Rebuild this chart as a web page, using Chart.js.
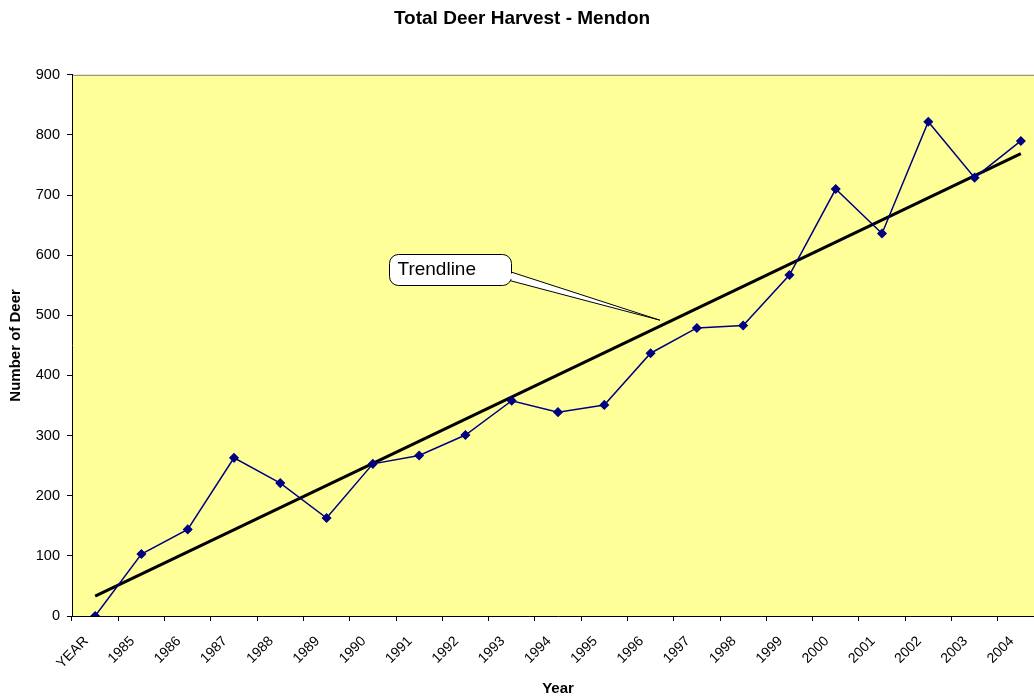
<!DOCTYPE html>
<html>
<head>
<meta charset="utf-8">
<title>Total Deer Harvest - Mendon</title>
<script src="https://cdn.jsdelivr.net/npm/chart.js@4.4.1/dist/chart.umd.min.js"></script>
<style>
  html, body { margin: 0; padding: 0; background: #fff; overflow: hidden; }
  #wrap { width: 1050px; height: 698px; position: relative; }
</style>
</head>
<body>
<div id="wrap"><canvas id="deerChart"></canvas></div>
<script>
// ── Data ──────────────────────────────────────────────────
const years = ['YEAR', '1985', '1986', '1987', '1988', '1989', '1990', '1991', '1992', '1993',
               '1994', '1995', '1996', '1997', '1998', '1999', '2000', '2001', '2002', '2003', '2004'];
const harvest = [0, 103, 144, 263, 221, 163, 253, 267, 301, 358,
                 339, 351, 437, 479, 483, 567, 710, 636, 822, 729, 790];
// trendline end values as drawn in the picture
const trendYears = ['YEAR', '2004'];
const trendValues = [33, 769];
const yTicks = { min: 0, max: 900, step: 100 };

// ── Styles ────────────────────────────────────────────────
const FONT = "'Liberation Sans', Arial, sans-serif";
const PLOT_BG = '#FFFF99';
const NAVY = '#000080';

// callout, anchored on the chart's own scales
const CALLOUT = {
  text: 'Trendline',
  tip: { index: 12.2, value: 492 },
  box: { index: 6.35, value: 602 },
  w: 122, h: 31, r: 9,
};

const plotArea = {
  id: 'plotArea',
  beforeDraw(chart) {
    const { ctx, chartArea: a } = chart;
    ctx.save();
    ctx.fillStyle = PLOT_BG;
    ctx.fillRect(a.left, a.top, a.right - a.left, a.bottom - a.top);
    ctx.strokeStyle = '#808080';
    ctx.lineWidth = 1;
    ctx.beginPath();
    ctx.moveTo(a.left, a.top + 0.5);
    ctx.lineTo(a.right, a.top + 0.5);
    ctx.moveTo(a.right - 0.5, a.top);
    ctx.lineTo(a.right - 0.5, a.bottom);
    ctx.stroke();
    ctx.restore();
  },
};

const callout = {
  id: 'callout',
  afterDatasetsDraw(chart) {
    const { ctx, scales: { x, y } } = chart;
    const tx = x.getPixelForValue(CALLOUT.tip.index);
    const ty = y.getPixelForValue(CALLOUT.tip.value);
    const bx = Math.round(x.getPixelForValue(CALLOUT.box.index)) + 0.5;
    const by = Math.round(y.getPixelForValue(CALLOUT.box.value)) + 0.5;
    const { w, h, r } = CALLOUT;
    ctx.save();
    ctx.lineWidth = 1;
    ctx.strokeStyle = '#000';
    ctx.fillStyle = '#fff';
    // tail
    ctx.beginPath();
    ctx.moveTo(bx + w - 2, by + 17);
    ctx.lineTo(tx, ty);
    ctx.lineTo(bx + w - 2, by + 26);
    ctx.closePath();
    ctx.fill();
    ctx.stroke();
    // box
    ctx.beginPath();
    ctx.roundRect(bx, by, w, h, r);
    ctx.fill();
    ctx.stroke();
    // cover the seam where the tail joins
    ctx.beginPath();
    ctx.moveTo(bx + w - 3, by + 18);
    ctx.lineTo(bx + w + 3, by + 20);
    ctx.lineTo(bx + w + 3, by + 24);
    ctx.lineTo(bx + w - 3, by + 25);
    ctx.closePath();
    ctx.fill();
    ctx.fillStyle = '#000';
    ctx.font = '19px ' + FONT;
    ctx.textBaseline = 'alphabetic';
    ctx.textAlign = 'left';
    ctx.fillText(CALLOUT.text, bx + 8, by + 20);
    ctx.restore();
  },
};

new Chart(document.getElementById('deerChart'), {
  type: 'line',
  data: {
    labels: years,
    datasets: [
      {
        label: 'Harvest',
        data: harvest,
        borderColor: NAVY,
        backgroundColor: NAVY,
        borderWidth: 1.5,
        pointStyle: 'rectRot',
        pointRadius: 4,
        pointBorderWidth: 1.5,
        tension: 0,
        order: 1,
      },
      {
        label: 'Trendline',
        data: trendYears.map((t, i) => ({ x: t, y: trendValues[i] })),
        borderColor: '#000',
        borderWidth: 3,
        pointRadius: 0,
        tension: 0,
        order: 2,
      },
    ],
  },
  options: {
    responsive: true,
    maintainAspectRatio: false,
    animation: false,
    layout: { padding: { left: 0, right: 6, top: 0, bottom: 0 } },
    plugins: {
      legend: { display: false },
      tooltip: { enabled: false },
      title: {
        display: true,
        text: 'Total Deer Harvest - Mendon',
        color: '#000',
        font: { family: FONT, size: 19, weight: 'bold' },
        padding: { top: 7, bottom: 45 },
      },
    },
    scales: {
      x: {
        type: 'category',
        offset: true,
        grid: { display: true, drawOnChartArea: false, offset: true, tickLength: 5, color: '#000' },
        border: { display: true, color: '#000', width: 1 },
        ticks: {
          color: '#000',
          font: { family: FONT, size: 14 },
          minRotation: 45,
          maxRotation: 45,
          autoSkip: false,
          padding: 12,
          labelOffset: -9,
        },
        title: {
          display: true,
          text: 'Year',
          color: '#000',
          font: { family: FONT, size: 15, weight: 'bold' },
          padding: { top: 0, bottom: 0 },
        },
        afterFit(scale) { scale.height = 82; },
      },
      y: {
        min: yTicks.min,
        max: yTicks.max,
        grid: { display: true, drawOnChartArea: false, tickLength: 5, color: '#000' },
        border: { display: true, color: '#000', width: 1 },
        ticks: {
          stepSize: yTicks.step,
          color: '#000',
          font: { family: FONT, size: 14.5 },
          padding: 7,
        },
        title: {
          display: true,
          text: 'Number of Deer',
          color: '#000',
          font: { family: FONT, size: 15, weight: 'bold' },
          padding: { top: 7, bottom: 0 },
        },
        afterFit(scale) { scale.width = 72; },
      },
    },
  },
  plugins: [plotArea, callout],
});
</script>
</body>
</html>
